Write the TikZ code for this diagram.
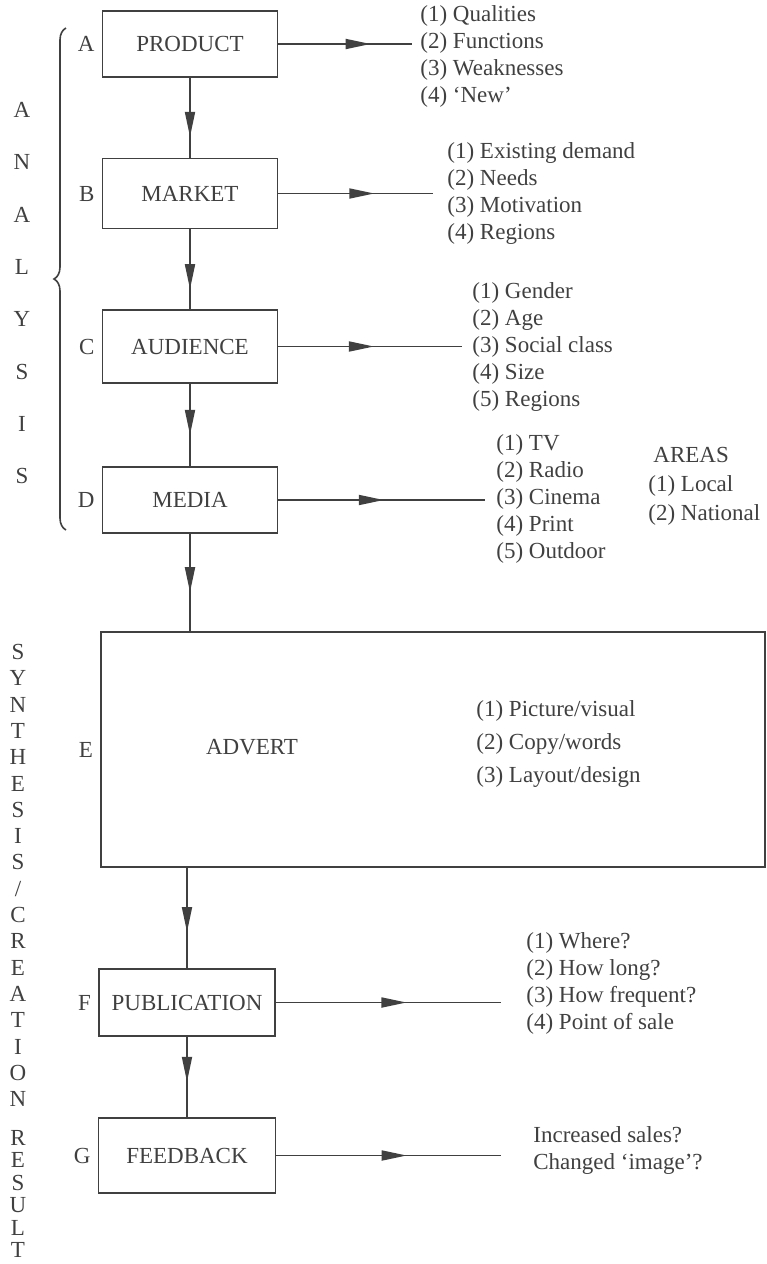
\documentclass[tikz,border=0pt]{standalone}
\usepackage{fontspec}
\setmainfont{Liberation Serif}
\usetikzlibrary{arrows.meta,decorations.markings,decorations.pathreplacing}

\definecolor{ink}{gray}{0.25}

\begin{document}
\begin{tikzpicture}[x=0.5pt,y=-0.5pt,
        every node/.style={text=ink,font=\fontsize{11.5}{13.5}\selectfont},
        stage/.style={draw=ink,line width=0.9pt,minimum width=87.5pt,minimum height=35pt,inner sep=0pt,label=left:#1},
        items/.style={align=left,inner sep=0pt,anchor=west},
        flow/.style={draw=ink,line width=0.9pt,postaction={decorate},
            decoration={markings,mark=at position #1 with {\arrow[ink]{Triangle[length=12.5pt,width=5pt]}}}},
        letter/.style={inner sep=0pt},
        bracket/.style={draw=ink,line width=0.8pt,decorate,decoration={brace,amplitude=6pt}}
    ]
        \useasboundingbox (0,0) rectangle (766,1264);

        % Define the stages
        \node[stage=A,minimum height=33pt] (product) at (190,44) {PRODUCT};
        \node[stage=B] (market) at (190,193.5) {MARKET};
        \node[stage=C,minimum height=36.5pt] (audience) at (190,346.5) {AUDIENCE};
        \node[stage=D,minimum height=33pt] (media) at (190,500) {MEDIA};
        \node[stage=E,minimum width=332pt,minimum height=117.5pt] (advert) at (433,749.5) {};
        \node (adverttitle) at (252,747) {ADVERT};
        \node[stage=F,minimum width=88pt,minimum height=33.5pt] (publication) at (187,1002.5) {PUBLICATION};
        \node[stage=G,minimum width=88.5pt,minimum height=37.5pt] (feedback) at (187,1155.5) {FEEDBACK};

        % Lists beside the stages
        \node[items] (productlist) at (420,56.5) {(1) Qualities\\(2) Functions\\(3) Weaknesses\\(4) `New'};
        \node[items] (marketlist) at (447,193) {(1) Existing demand\\(2) Needs\\(3) Motivation\\(4) Regions};
        \node[items] (audiencelist) at (472,346.5) {(1) Gender\\(2) Age\\(3) Social class\\(4) Size\\(5) Regions};
        \node[items] (medialist) at (496,499) {(1) TV\\(2) Radio\\(3) Cinema\\(4) Print\\(5) Outdoor};
        \node[items] (areas) at (648,486) {\hspace{2.5pt}AREAS\\[1pt](1) Local\\[1pt](2) National};
        \node[items,font=\fontsize{11.5}{16.5}\selectfont] (advertlist) at (476,744) {(1) Picture/visual\\(2) Copy/words\\(3) Layout/design};
        \node[items] (publist) at (526,983.5) {(1) Where?\\(2) How long?\\(3) How frequent?\\(4) Point of sale};
        \node[items] (feedbacklist) at (533,1150) {Increased sales?\\Changed `image'?};

        % Free ends of the side arrows
        \coordinate (productend) at (412,44);
        \coordinate (marketend) at (433,193.5);
        \coordinate (audienceend) at (462,346.5);
        \coordinate (mediaend) at (485,500);
        \coordinate (publicationend) at (501,1002.5);
        \coordinate (feedbackend) at (501,1155.5);

        % Down the chain
        \draw[flow=0.74] (product) -- (market);
        \draw[flow=0.75] (market) -- (audience);
        \draw[flow=0.62] (audience) -- (media);
        \draw[flow=0.6] (media) -- (media |- advert.north);
        \draw[flow=0.64] (publication |- advert.south) -- (publication);
        \draw[flow=0.56] (publication) -- (feedback);

        % Out to the lists
        \draw[flow=0.69] (product) -- (productend);
        \draw[flow=0.62] (market) -- (marketend);
        \draw[flow=0.52] (audience) -- (audienceend);
        \draw[flow=0.51] (media) -- (mediaend);
        \draw[flow=0.58] (publication) -- (publicationend);
        \draw[flow=0.58] (feedback) -- (feedbackend);

        % Side headings
        \coordinate (analysistop) at (66,28);
        \coordinate (analysisbottom) at (66,530);
        \draw[bracket] (analysisbottom) -- (analysistop);
        \foreach \ch [count=\i] in {A,N,A,L,Y,S,I,S}
            \node[letter] (analysis\i) at (22,{110+52.3*(\i-1)}) {\ch};
        \foreach \ch [count=\i] in {S,Y,N,T,H,E,S,I,S,\slash,C,R,E,A,T,I,O,N}
            \node[letter] (synthesis\i) at (18,{652+26.3*(\i-1)}) {\ch};
        \foreach \ch [count=\i] in {R,E,S,U,L,T}
            \node[letter] (result\i) at (18,{1138+22.4*(\i-1)}) {\ch};
    \end{tikzpicture}
\end{document}
